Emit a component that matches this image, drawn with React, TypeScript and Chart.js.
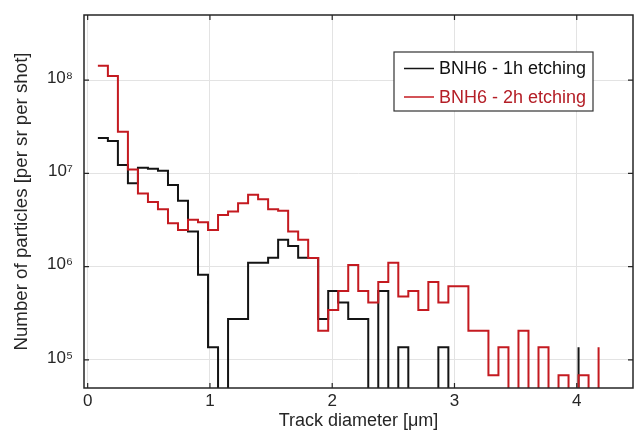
import React, { useEffect, useRef } from "react";
import { Chart, registerables } from "chart.js";

Chart.register(...registerables);

// Histogram binning (track diameter, µm)
const BIN_START = 0.0835;
const BIN_WIDTH = 0.0819;

// Counts per bin (per sr per shot); last entry is the closing stairs point
const SERIES_1H = [
  2.4e7, 2.23e7, 1.23e7, 7.85e6, 1.15e7, 1.12e7, 1.07e7, 7.5e6, 5.1e6, 2.38e6,
  8.2e5, 1.37e5, 0, 2.74e5, 2.74e5, 1.1e6, 1.1e6, 1.25e6, 1.94e6, 1.67e6,
  1.25e6, 1.24e6, 2.74e5, 5.49e5, 4.12e5, 2.74e5, 2.74e5, 0, 5.49e5, 0,
  1.37e5, 0, 0, 0, 1.37e5, 0, 0, 0, 0, 0,
  0, 0, 0, 0, 0, 0, 0, 0, 1.37e5,
];

const SERIES_2H = [
  1.43e8, 1.11e8, 2.8e7, 1.1e7, 6.1e6, 4.95e6, 4.14e6, 2.93e6, 2.48e6, 3.18e6,
  2.99e6, 2.48e6, 3.59e6, 3.9e6, 4.8e6, 5.89e6, 5.29e6, 4.14e6, 3.97e6, 2.38e6,
  1.94e6, 1.24e6, 2.06e5, 3.43e5, 5.49e5, 1.04e6, 5.49e5, 4.12e5, 6.86e5, 1.1e6,
  4.8e5, 5.49e5, 3.43e5, 6.86e5, 4.12e5, 6.17e5, 6.17e5, 2.06e5, 2.06e5, 6.86e4,
  1.37e5, 0, 2.06e5, 0, 1.37e5, 0, 6.86e4, 0, 6.86e4, 0, 1.37e5,
];

const SERIES_LABELS = ["BNH6 - 1h etching", "BNH6 - 2h etching"];
const X_TICKS = [0, 1, 2, 3, 4];
const X_TICK_LABELS = ["0", "1", "2", "3", "4"];
const Y_TICKS = [1e5, 1e6, 1e7, 1e8];
const Y_TICK_LABELS = ["10\u2075", "10\u2076", "10\u2077", "10\u2078"];
const X_TITLE = "Track diameter [\u03bcm]";
const Y_TITLE = "Number of particles [per sr per shot]";

const X_MIN = -0.03;
const X_MAX = 4.46;
const Y_MIN = 5e4;
const Y_MAX = 5e8;
const ZERO_FLOOR = 1e3; // empty bins drop below the axis

const COLOR_1H = "#141414";
const COLOR_2H = "#c41a20";
const COLOR_2H_TEXT = "#b41e26";
const AXIS_COLOR = "#262626";
const FONT = "'Liberation Sans', Arial, Helvetica, sans-serif";

function toPoints(vals: number[]) {
  return vals.map((v, i) => ({
    x: BIN_START + i * BIN_WIDTH,
    y: v > 0 ? v : ZERO_FLOOR,
  }));
}

const framePlugin = {
  id: "frameAndLegend",
  afterDatasetsDraw(chart: any) {
    const { ctx, chartArea: a, scales } = chart;
    const xs = scales.x;
    const ys = scales.y;
    ctx.save();
    // inward ticks
    ctx.strokeStyle = AXIS_COLOR;
    ctx.lineWidth = 1.2;
    ctx.beginPath();
    X_TICKS.forEach((v) => {
      const px = xs.getPixelForValue(v);
      ctx.moveTo(px, a.bottom);
      ctx.lineTo(px, a.bottom - 5);
      ctx.moveTo(px, a.top);
      ctx.lineTo(px, a.top + 5);
    });
    Y_TICKS.forEach((v) => {
      const py = ys.getPixelForValue(v);
      ctx.moveTo(a.left, py);
      ctx.lineTo(a.left + 5, py);
      ctx.moveTo(a.right, py);
      ctx.lineTo(a.right - 5, py);
    });
    ctx.stroke();
    // box
    ctx.lineWidth = 1.5;
    ctx.strokeRect(a.left, a.top, a.right - a.left, a.bottom - a.top);

    // legend
    const bw = 199;
    const bh = 59;
    const bx = a.right - 40 - bw;
    const by = a.top + 37;
    ctx.fillStyle = "#ffffff";
    ctx.fillRect(bx, by, bw, bh);
    ctx.strokeStyle = "#333333";
    ctx.lineWidth = 1.2;
    ctx.strokeRect(bx, by, bw, bh);
    const rows = [
      { label: SERIES_LABELS[0], line: COLOR_1H, text: "#111111", y: by + 16.5 },
      { label: SERIES_LABELS[1], line: COLOR_2H, text: COLOR_2H_TEXT, y: by + 45 },
    ];
    ctx.font = `18px ${FONT}`;
    ctx.textBaseline = "middle";
    ctx.textAlign = "left";
    rows.forEach((r) => {
      ctx.strokeStyle = r.line;
      ctx.lineWidth = 1.5;
      ctx.beginPath();
      ctx.moveTo(bx + 10, r.y);
      ctx.lineTo(bx + 40, r.y);
      ctx.stroke();
      ctx.fillStyle = r.text;
      ctx.fillText(r.label, bx + 45, r.y + 1);
    });
    ctx.restore();
  },
};

export default function App() {
  const ref = useRef<HTMLCanvasElement | null>(null);

  useEffect(() => {
    if (!ref.current) return;
    const chart = new Chart(ref.current, {
      type: "line",
      data: {
        datasets: [
          {
            label: SERIES_LABELS[0],
            data: toPoints(SERIES_1H),
            borderColor: COLOR_1H,
            borderWidth: 2,
            pointRadius: 0,
            stepped: true,
            fill: false,
            order: 1,
          },
          {
            label: SERIES_LABELS[1],
            data: toPoints(SERIES_2H),
            borderColor: COLOR_2H,
            borderWidth: 2,
            pointRadius: 0,
            stepped: true,
            fill: false,
            order: 0,
          },
        ],
      },
      options: {
        responsive: false,
        animation: false,
        events: [],
        layout: { padding: { top: 15, right: 3, left: 0, bottom: 0 } },
        plugins: {
          legend: { display: false },
          tooltip: { enabled: false },
        },
        scales: {
          x: {
            type: "linear",
            min: X_MIN,
            max: X_MAX,
            afterBuildTicks: (scale: any) => {
              scale.ticks = X_TICKS.map((v) => ({ value: v }));
            },
            afterFit: (scale: any) => {
              scale.height = 44;
              scale.paddingLeft = 0;
              scale.paddingRight = 0;
            },
            ticks: {
              autoSkip: false,
              maxRotation: 0,
              padding: 3,
              color: AXIS_COLOR,
              font: { family: FONT, size: 17 },
              callback: (_v: any, i: number) => X_TICK_LABELS[i],
            },
            grid: { color: "#e3e3e3", lineWidth: 1, drawTicks: false },
            border: { display: false },
            title: {
              display: true,
              text: X_TITLE,
              color: AXIS_COLOR,
              font: { family: FONT, size: 18 },
              padding: { top: -2, bottom: 0 },
            },
          },
          y: {
            type: "logarithmic",
            min: Y_MIN,
            max: Y_MAX,
            afterBuildTicks: (scale: any) => {
              scale.ticks = Y_TICKS.map((v) => ({ value: v }));
            },
            afterFit: (scale: any) => {
              scale.width = 84;
              scale.paddingTop = 0;
              scale.paddingBottom = 0;
            },
            ticks: {
              autoSkip: false,
              padding: 11,
              labelOffset: -2,
              color: AXIS_COLOR,
              font: { family: FONT, size: 17 },
              callback: (_v: any, i: number) => Y_TICK_LABELS[i],
            },
            grid: { color: "#e3e3e3", lineWidth: 1, drawTicks: false },
            border: { display: false },
            title: {
              display: true,
              text: Y_TITLE,
              color: AXIS_COLOR,
              font: { family: FONT, size: 18.7 },
              padding: { top: 11, bottom: 0 },
            },
          },
        },
      },
      plugins: [framePlugin],
    } as any);
    return () => chart.destroy();
  }, []);

  return (
    <div style={{ position: "absolute", left: 0, top: 0, width: 636, height: 432, background: "#fff" }}>
      <canvas ref={ref} width={636} height={432} style={{ display: "block" }} />
    </div>
  );
}
